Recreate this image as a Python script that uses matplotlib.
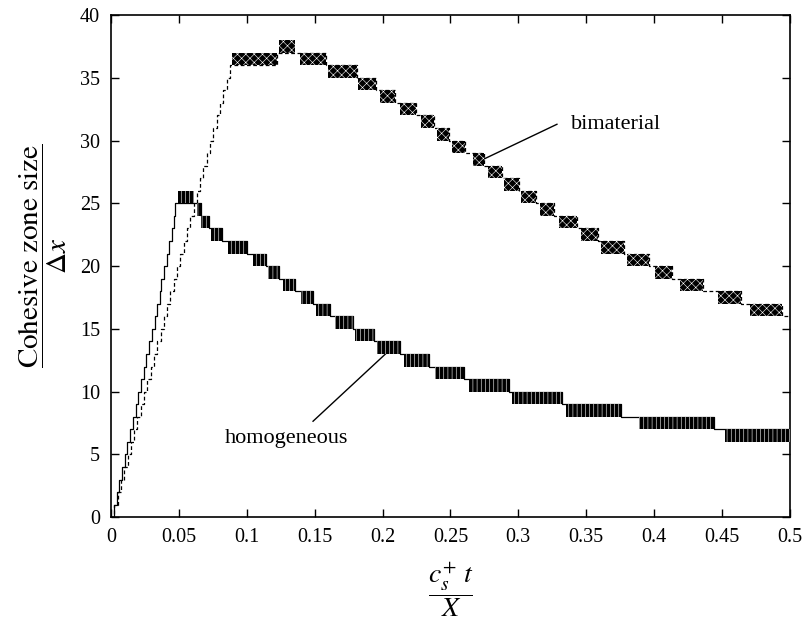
import matplotlib
matplotlib.use("Agg")
import matplotlib.pyplot as plt

plt.rcParams['font.family'] = ['Liberation Serif', 'DejaVu Serif']
plt.rcParams['mathtext.fontset'] = 'stix'
plt.rcParams['hatch.linewidth'] = 0.4

# instantes en que el tamano de zona cohesiva sube un nivel (fase de carga)
homo_rise = [0.002, 0.004, 0.006, 0.008, 0.010, 0.012, 0.014, 0.016, 0.018, 0.020,
             0.022, 0.024, 0.026, 0.028, 0.030, 0.032, 0.034, 0.036, 0.037, 0.039,
             0.041, 0.043, 0.045, 0.046, 0.047]
bima_rise = [0.0024, 0.0049, 0.0073, 0.0097, 0.0121, 0.0146, 0.0170, 0.0194, 0.0219,
             0.0243, 0.0267, 0.0292, 0.0316, 0.0340, 0.0365, 0.0389, 0.0413, 0.0437,
             0.0462, 0.0486, 0.0510, 0.0535, 0.0559, 0.0583, 0.0608, 0.0632, 0.0656,
             0.0680, 0.0705, 0.0729, 0.0753, 0.0778, 0.0802, 0.0826, 0.0851, 0.0875]

# bloques donde el valor oscila entre nivel y nivel+1: inicio, fin, nivel inferior
homo_ini = [0.049, 0.063, 0.066, 0.0735, 0.086, 0.1045, 0.1156, 0.127, 0.1396, 0.1513,
            0.165, 0.180, 0.196, 0.216, 0.239, 0.264, 0.2955, 0.335, 0.389, 0.452]
homo_fin = [0.061, 0.066, 0.072, 0.0815, 0.100, 0.114, 0.1236, 0.1355, 0.1484, 0.161,
            0.178, 0.194, 0.213, 0.2345, 0.260, 0.293, 0.332, 0.376, 0.444, 0.500]
homo_niv = [25, 24, 23, 22, 21, 20, 19, 18, 17, 16, 15, 14, 13, 12, 11, 10, 9, 8, 7, 6]

bima_ini = [0.089, 0.124, 0.139, 0.160, 0.182, 0.198, 0.2125, 0.228, 0.240, 0.251,
            0.267, 0.278, 0.2895, 0.302, 0.316, 0.330, 0.346, 0.361, 0.380, 0.401,
            0.419, 0.447, 0.471]
bima_fin = [0.122, 0.1355, 0.1586, 0.181, 0.195, 0.209, 0.225, 0.238, 0.249, 0.261,
            0.275, 0.288, 0.3006, 0.313, 0.326, 0.343, 0.359, 0.378, 0.396, 0.413,
            0.436, 0.464, 0.494]
bima_niv = [36, 37, 36, 35, 34, 33, 32, 31, 30, 29, 28, 27, 26, 25, 24, 23, 22, 21, 20,
            19, 18, 17, 16]

T_FIN = 0.5


def escalera(rise, fin, niv):
    # curva escalonada: subida + tramos entre bloques
    xs = [0.0] + list(rise)
    ys = list(range(len(rise) + 1))
    for i in range(len(fin)):
        if i + 1 < len(niv):
            nivel = max(niv[i], niv[i + 1])
        else:
            nivel = niv[i]
        xs.append(fin[i])
        ys.append(nivel)
    xs.append(T_FIN)
    ys.append(ys[-1])
    return xs, ys


fig = plt.figure(figsize=(8.05, 6.27), dpi=100)
ax = fig.add_axes([0.138, 0.175, 0.843, 0.801])

x1, y1 = escalera(homo_rise, homo_fin, homo_niv)
ax.plot(x1, y1, drawstyle='steps-post', color='black', lw=0.9)
x2, y2 = escalera(bima_rise, bima_fin, bima_niv)
ax.plot(x2, y2, drawstyle='steps-post', color='black', lw=0.9, dashes=(3, 2))

anchos = [f - i for i, f in zip(homo_ini, homo_fin)]
ax.bar(homo_ini, [1] * len(homo_niv), width=anchos, bottom=homo_niv, align='edge',
       facecolor='black', edgecolor='white', linewidth=0, hatch='||||', zorder=3)
anchos = [f - i for i, f in zip(bima_ini, bima_fin)]
ax.bar(bima_ini, [1] * len(bima_niv), width=anchos, bottom=bima_niv, align='edge',
       facecolor='black', edgecolor='white', linewidth=0, hatch='xxxx', zorder=3)

# etiquetas de las curvas
ax.plot([0.3285, 0.2741], [31.3, 28.5], color='black', lw=1.0)
ax.text(0.3388, 31.3, 'bimaterial', fontsize=16, va='center', ha='left')
ax.plot([0.1488, 0.2051], [7.65, 13.3], color='black', lw=1.0)
ax.text(0.084, 6.3, 'homogeneous', fontsize=16, va='center', ha='left')

ax.set_xlim(0, 0.5)
ax.set_ylim(0, 40)
ax.set_xticks([0, 0.05, 0.1, 0.15, 0.2, 0.25, 0.3, 0.35, 0.4, 0.45, 0.5])
ax.set_xticklabels(['0', '0.05', '0.1', '0.15', '0.2', '0.25', '0.3', '0.35', '0.4', '0.45', '0.5'])
ax.set_yticks(range(0, 41, 5))
ax.tick_params(direction='in', top=True, right=True, length=6, width=1,
               labelsize=14.5, pad=8)
for s in ax.spines.values():
    s.set_linewidth(1.2)

ax.set_xlabel(r'$\dfrac{c_s^{+}\ t}{X}$', fontsize=20)
ax.xaxis.set_label_coords(0.5, -0.085)
ax.set_ylabel(r'$\dfrac{\mathrm{Cohesive\ zone\ size}}{\Delta x}$', fontsize=21)
ax.yaxis.set_label_coords(-0.062, 0.52)

fig.savefig('out.png', dpi=100)
